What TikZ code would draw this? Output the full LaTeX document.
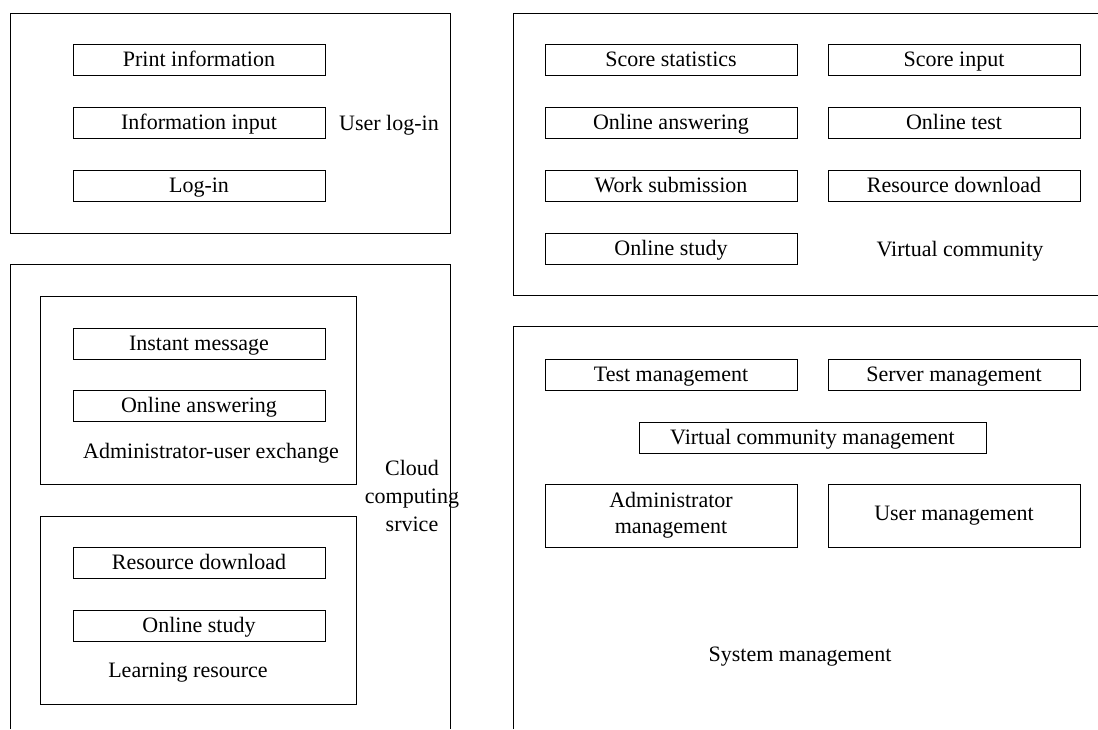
\documentclass[tikz,border=0pt]{standalone}
\usepackage{fontspec}
\setmainfont{Liberation Serif}
\usetikzlibrary{positioning}
\begin{document}
\begin{tikzpicture}
	[x=0.5pt,y=-0.5pt,line width=0.5pt,
	 box/.style={shape=rectangle,draw,minimum width=126pt,inner sep=0pt,font=\fontsize{11}{13}\selectfont},
	 item/.style={box,minimum height=15.5pt,text height=8.6pt,text depth=1.4pt},
	 big item/.style={box,minimum height=31.5pt,align=center},
	 caption/.style={font=\fontsize{11}{14}\selectfont,align=center}]
	\useasboundingbox (0,0) rectangle (1098,729);
	% frames
	\draw (10,13) rectangle (450,233);
	\draw (10,729) -- (10,264) -- (450,264) -- (450,729);
	\draw (40,296) rectangle (356,484);
	\draw (40,516) rectangle (356,704);
	\draw (1098,13) -- (513,13) -- (513,295) -- (1098,295);
	\draw (513,729) -- (513,326) -- (1098,326);
	
	% user log-in
	\node [item] (print) at (199,59.5) {Print information};
	\node [item] (infoin) at (199,122.5) {Information input};
	\node [item] (login) at (199,185.5) {Log-in};
	\node [caption] (userlogin) at (389,125) {User log-in};
	
	% cloud computing service
	\node [item] (instant) at (199,343.5) {Instant message};
	\node [item] (answer1) at (199,405.5) {Online answering};
	\node [caption] (exchange) at (211,453) {Administrator-user exchange};
	\node [item] (download1) at (199,562.5) {Resource download};
	\node [item] (study1) at (199,625.5) {Online study};
	\node [caption] (learning) at (188,673) {Learning resource};
	\node [caption] (cloud) at (412,496) {Cloud\\computing\\srvice};
	
	% virtual community
	\node [item] (stat) at (671,59.5) {Score statistics};
	\node [item] (scorein) at (954,59.5) {Score input};
	\node [item] (answer2) at (671,122.5) {Online answering};
	\node [item] (test) at (954,122.5) {Online test};
	\node [item] (work) at (671,185.5) {Work submission};
	\node [item] (download2) at (954,185.5) {Resource download};
	\node [item] (study2) at (671,248.5) {Online study};
	\node [caption] (virtual) at (960,251) {Virtual community};
	
	% system management
	\node [item] (testmgmt) at (671,374.5) {Test management};
	\node [item] (server) at (954,374.5) {Server management};
	\node [item,minimum width=173.5pt] (vcmgmt) at (812.5,437.5) {Virtual community management};
	\node [big item] (admin) at (671,515.5) {Administrator\\management};
	\node [big item] (user) at (954,515.5) {User management};
	\node [caption] (system) at (800,657) {System management};
	
\end{tikzpicture}
\end{document}
